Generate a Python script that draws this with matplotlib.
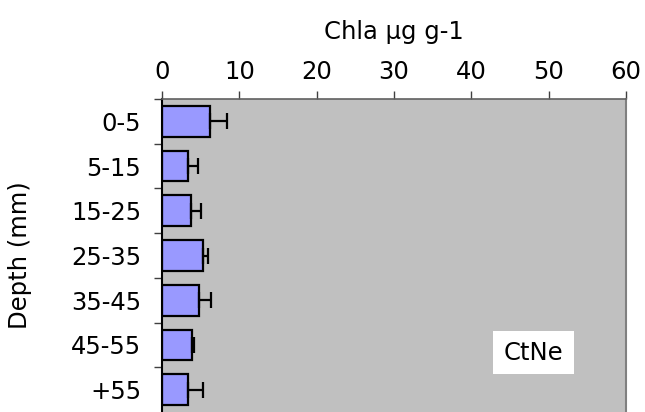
import matplotlib.pyplot as plt
import numpy as np
from matplotlib.patches import Rectangle

depths = ['0-5', '5-15', '15-25', '25-35', '35-45', '45-55', '+55']
chla = [6.2, 3.3, 3.7, 5.3, 4.8, 3.9, 3.3]
chla_err = [2.2, 1.4, 1.3, 0.7, 1.5, 0.2, 2.0]
xticks = [0, 10, 20, 30, 40, 50, 60]

plt.rcParams['font.family'] = ['DejaVu Sans']
fs = 17.5

fig = plt.figure(figsize=(6.45, 4.12), dpi=100)
ax = fig.add_axes([162 / 645, 0.0, 464 / 645, 313 / 412])
ax.set_facecolor('#C0C0C0')

y = np.arange(len(depths))
ax.barh(y, chla, height=0.69, color='#9999FF', edgecolor='black', linewidth=1.6, zorder=2)
ax.errorbar(chla, y, xerr=[np.zeros(len(chla)), chla_err], fmt='none', ecolor='black',
            elinewidth=1.6, capsize=6, capthick=1.6, zorder=3)

ax.set_xlim(0, 60)
ax.set_ylim(len(depths) - 0.5, -0.5)
ax.xaxis.tick_top()
ax.xaxis.set_label_position('top')
ax.set_xticks(xticks)
ax.set_xticklabels([str(v) for v in xticks], fontsize=fs)
ax.tick_params(axis='x', direction='out', length=6, width=1, color='#404040', pad=5)

ax.set_yticks(y)
ax.set_yticklabels(depths, fontsize=fs)
ax.set_yticks(np.arange(len(depths)) - 0.5, minor=True)
ax.tick_params(axis='y', which='major', length=0, pad=15)
ax.tick_params(axis='y', which='minor', direction='out', length=6, width=1, color='#404040')

ax.set_xlabel('Chla µg g-1', fontsize=fs, labelpad=15)
ax.set_ylabel('Depth (mm)', fontsize=fs, labelpad=28)

ax.spines['left'].set_color('black')
ax.spines['left'].set_linewidth(1.5)
ax.spines['top'].set_color('#606060')
ax.spines['top'].set_linewidth(1.2)
ax.spines['right'].set_color('#808080')
ax.spines['right'].set_linewidth(1.5)
ax.spines['bottom'].set_visible(False)

ax.add_patch(Rectangle((0.713, 0.121), 0.175, 0.137, transform=ax.transAxes,
                       facecolor='white', edgecolor='none', zorder=4))
ax.text(0.80, 0.19, 'CtNe', transform=ax.transAxes, ha='center', va='center',
        fontsize=fs, zorder=5)

plt.savefig('out.png', dpi=100)
